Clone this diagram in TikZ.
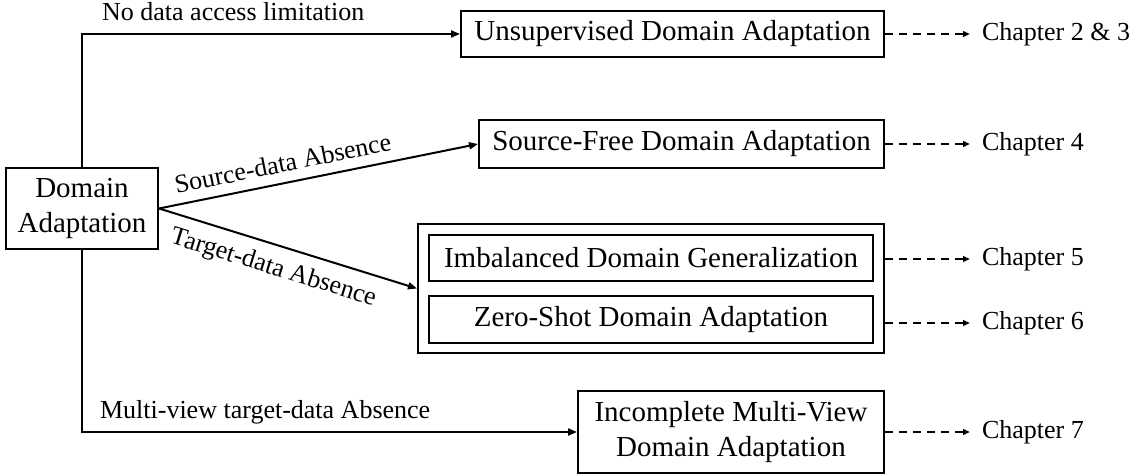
\documentclass[tikz,border=0pt]{standalone}
\usepackage{fontspec}
\setmainfont{Liberation Serif}
\usetikzlibrary{arrows.meta}

\begin{document}
\begin{tikzpicture}[x=0.5pt, y=-0.5pt, line width=1pt,
  box/.style={draw, line width=1pt, align=center, inner sep=0pt, font=\fontsize{14.5}{17.5}\selectfont},
  lbl/.style={font=\fontsize{13}{15}\selectfont},
  chap/.style={anchor=west, inner xsep=5.5pt, font=\fontsize{13}{15}\selectfont},
  link/.style={-{Triangle[length=4.5pt,width=3.5pt]}},
  dlink/.style={dash pattern=on 4pt off 3pt, line width=0.9pt, -{Triangle[length=3.5pt,width=2.8pt]}}]

\useasboundingbox (0,0) rectangle (1145,476);

% Root
\node[box, minimum width=76pt, minimum height=40.5pt] (da) at (82,208.5) {Domain\\Adaptation};

% Settings
\node[box, minimum width=211.5pt, minimum height=23pt] (uda) at (672.5,34) {Unsupervised Domain Adaptation};
\node[box, minimum width=202.5pt, minimum height=23.5pt] (sfda) at (681.5,144) {Source-Free Domain Adaptation};
\node[box, minimum width=233pt, minimum height=64.5pt] (grp) at (651,288.5) {};
\node[box, minimum width=222pt, minimum height=23pt] (idg) at (651,258) {Imbalanced Domain Generalization};
\node[box, minimum width=222pt, minimum height=23.5pt] (zsda) at (651,319.5) {Zero-Shot Domain Adaptation};
\node[box, minimum width=153pt, minimum height=41pt] (imvda) at (731,432) {Incomplete Multi-View\\Domain Adaptation};

% Chapters
\node[chap] (c1) at (970,34) {Chapter 2 \& 3};
\node[chap] (c2) at (970,144) {Chapter 4};
\node[chap] (c3) at (970,259) {Chapter 5};
\node[chap] (c4) at (970,323) {Chapter 6};
\node[chap] (c5) at (970,432) {Chapter 7};

\draw[link] (da.north) |- (uda) node[lbl, pos=0.7, above=2.7pt] {No data access limitation};
\draw[link] (da.east) -- (sfda.west) node[lbl, pos=0.4, sloped, above=1.5pt] {Source-data Absence};
\draw[link] (da.east) -- (grp.west) node[lbl, pos=0.47, sloped, below=2pt] {Target-data Absence};
\draw[link] (da.south) |- (imvda) node[lbl, pos=0.685, above=0pt] {Multi-view target-data Absence};

\draw[dlink] (uda) -- (c1);
\draw[dlink] (sfda) -- (c2);
\draw[dlink] (grp.east |- c3) -- (c3);
\draw[dlink] (grp.east |- c4) -- (c4);
\draw[dlink] (imvda) -- (c5);

\end{tikzpicture}
\end{document}
